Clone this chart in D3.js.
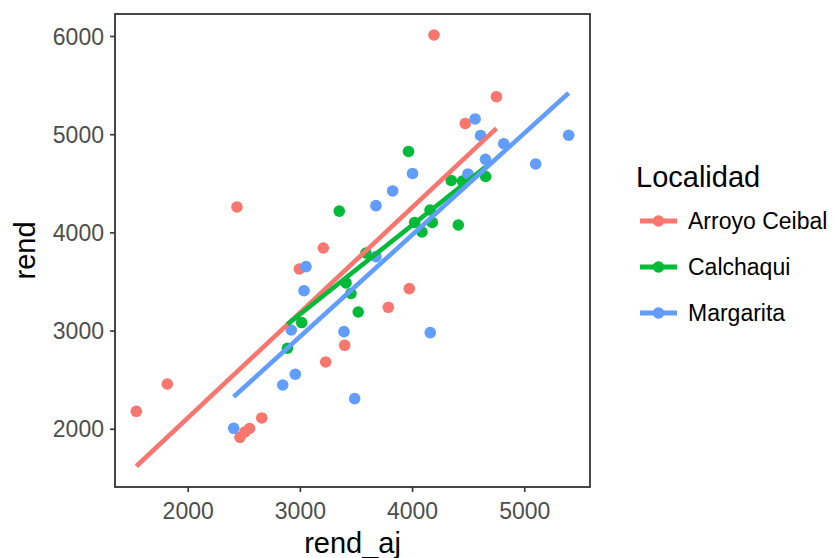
<!DOCTYPE html>
<html>
<head>
<meta charset="utf-8">
<script src="https://cdn.jsdelivr.net/npm/d3@7"></script>
<style>
  html, body { margin: 0; padding: 0; background: #fff; }
  svg { display: block; font-family: "Liberation Sans", Arial, Helvetica, sans-serif; }
</style>
</head>
<body>
<svg id="chart" width="834" height="558"></svg>
<script>
// Locality groups and their colours
const localidades = ["Arroyo Ceibal", "Calchaqui", "Margarita"];
const colores = ["#F8766D", "#00BA38", "#619CFF"];

// rend_aj / rend pairs per locality
const ceibalX = [1542, 1818, 2439, 2466, 2510, 2551, 2660, 2995, 3209, 3230, 3399, 3788, 3975, 4195, 4474, 4752];
const ceibalY = [2178, 2456, 4259, 1913, 1967, 2003, 2110, 3627, 3841, 2680, 2850, 3237, 3427, 6010, 5109, 5382];

const calchaquiX = [2889, 3016, 3351, 3411, 3455, 3520, 3589, 3968, 4023, 4088, 4160, 4180, 4349, 4412, 4449, 4656];
const calchaquiY = [2820, 3082, 4216, 3485, 3378, 3189, 3790, 4824, 4101, 4004, 4228, 4101, 4529, 4075, 4523, 4569];

const margaritaX = [2410, 2847, 2959, 2923, 3037, 3054, 3393, 3488, 3678, 3678, 3827, 4004, 4162, 4498, 4562, 4610, 4654, 4817, 5102, 5396];
const margaritaY = [2005, 2446, 2555, 3006, 3406, 3651, 2989, 2307, 3753, 4272, 4422, 4600, 2979, 4595, 5155, 4987, 4744, 4903, 4697, 4989];

// Axis ticks
const xTicks = [2000, 3000, 4000, 5000];
const yTicks = [2000, 3000, 4000, 5000, 6000];

const groups = [
  { name: localidades[0], color: colores[0], xs: ceibalX, ys: ceibalY },
  { name: localidades[1], color: colores[1], xs: calchaquiX, ys: calchaquiY },
  { name: localidades[2], color: colores[2], xs: margaritaX, ys: margaritaY }
];

// Ordinary least squares fit for each group
function fit(xs, ys) {
  const n = xs.length;
  const mx = d3.mean(xs), my = d3.mean(ys);
  let sxy = 0, sxx = 0;
  for (let i = 0; i < n; i++) { sxy += (xs[i] - mx) * (ys[i] - my); sxx += (xs[i] - mx) ** 2; }
  const b = sxy / sxx, a = my - b * mx;
  const x0 = d3.min(xs), x1 = d3.max(xs);
  return [[x0, a + b * x0], [x1, a + b * x1]];
}

const svg = d3.select("#chart");
const panel = { left: 115, right: 590, top: 14, bottom: 487 };

const x = d3.scaleLinear().domain([1352, 5586]).range([panel.left, panel.right]);
const y = d3.scaleLinear().domain([1407, 6224]).range([panel.bottom, panel.top]);

// Panel background
svg.append("rect")
  .attr("x", panel.left).attr("y", panel.top)
  .attr("width", panel.right - panel.left).attr("height", panel.bottom - panel.top)
  .attr("fill", "#fff");

// Points
const pts = svg.append("g");
groups.forEach(g => {
  pts.selectAll(null)
    .data(g.xs.map((v, i) => [v, g.ys[i]]))
    .enter().append("circle")
    .attr("cx", d => x(d[0])).attr("cy", d => y(d[1]))
    .attr("r", 5.8).attr("fill", g.color);
});

// Fitted lines
const line = d3.line().x(d => x(d[0])).y(d => y(d[1]));
groups.forEach(g => {
  svg.append("path")
    .attr("d", line(fit(g.xs, g.ys)))
    .attr("fill", "none").attr("stroke", g.color)
    .attr("stroke-width", 4.6);
});

// Axes
const axisColor = "#333333";
const xAxis = svg.append("g")
  .attr("transform", `translate(0,${panel.bottom})`)
  .call(d3.axisBottom(x).tickValues(xTicks).tickSize(5).tickPadding(6).tickFormat(d3.format("d")));
const yAxis = svg.append("g")
  .attr("transform", `translate(${panel.left},0)`)
  .call(d3.axisLeft(y).tickValues(yTicks).tickSize(5).tickPadding(6).tickFormat(d3.format("d")));

[xAxis, yAxis].forEach(a => {
  a.select(".domain").remove();
  a.selectAll(".tick line").attr("stroke", axisColor).attr("stroke-width", 1.6);
  a.selectAll(".tick text")
    .attr("fill", "#4D4D4D")
    .style("font-size", "23px")
    .style("font-family", "'Liberation Sans', Arial, sans-serif");
});
xAxis.selectAll(".tick text").attr("dy", null).attr("y", 32);
yAxis.selectAll(".tick text").attr("dy", "0.35em").attr("x", -11);

// Panel border
svg.append("rect")
  .attr("x", panel.left).attr("y", panel.top)
  .attr("width", panel.right - panel.left).attr("height", panel.bottom - panel.top)
  .attr("fill", "none").attr("stroke", axisColor).attr("stroke-width", 1.8);

// Axis titles
svg.append("text")
  .attr("x", (panel.left + panel.right) / 2).attr("y", 553)
  .attr("text-anchor", "middle").style("font-size", "29px").attr("fill", "#000")
  .text("rend_aj");
svg.append("text")
  .attr("transform", `translate(35,${(panel.top + panel.bottom) / 2}) rotate(-90)`)
  .attr("text-anchor", "middle").style("font-size", "29px").attr("fill", "#000")
  .text("rend");

// Legend
const legend = svg.append("g");
legend.append("text")
  .attr("x", 636).attr("y", 187)
  .style("font-size", "29px").attr("fill", "#000")
  .text("Localidad");
const keyY = d3.scalePoint().domain(localidades).range([221, 313]);
groups.forEach(g => {
  const k = legend.append("g").attr("transform", `translate(0,${keyY(g.name)})`);
  k.append("line").attr("x1", 640).attr("x2", 677).attr("y1", 0).attr("y2", 0)
    .attr("stroke", g.color).attr("stroke-width", 4.8);
  k.append("circle").attr("cx", 658.5).attr("cy", 0).attr("r", 5.8).attr("fill", g.color);
  k.append("text").attr("x", 688).attr("y", 0).attr("dy", "0.35em")
    .style("font-size", "23px").attr("fill", "#000").text(g.name);
});
</script>
</body>
</html>
